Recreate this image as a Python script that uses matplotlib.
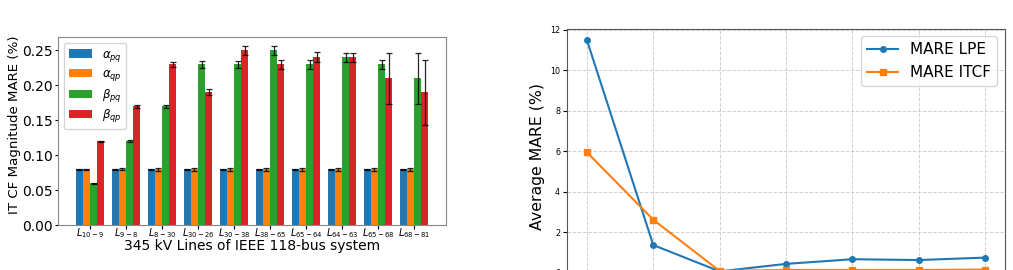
import numpy as np
import matplotlib
matplotlib.use("Agg")
import matplotlib.pyplot as plt

# ---- data: left bar chart ----
lines = [r"$L_{10-9}$", r"$L_{9-8}$", r"$L_{8-30}$", r"$L_{30-26}$", r"$L_{30-38}$",
         r"$L_{38-65}$", r"$L_{65-64}$", r"$L_{64-63}$", r"$L_{65-68}$", r"$L_{68-81}$"]
series_labels = [r"$\alpha_{pq}$", r"$\alpha_{qp}$", r"$\beta_{pq}$", r"$\beta_{qp}$"]
alpha_pq = [0.08, 0.08, 0.08, 0.08, 0.08, 0.08, 0.08, 0.08, 0.08, 0.08]
alpha_qp = [0.08, 0.08, 0.08, 0.08, 0.08, 0.08, 0.08, 0.08, 0.08, 0.08]
beta_pq = [0.06, 0.12, 0.17, 0.23, 0.23, 0.25, 0.23, 0.24, 0.23, 0.21]
beta_qp = [0.12, 0.17, 0.23, 0.19, 0.25, 0.23, 0.24, 0.24, 0.21, 0.19]
alpha_pq_err = [0.0008, 0.0012, 0.0012, 0.0012, 0.0012, 0.0012, 0.0012, 0.0012, 0.0012, 0.0012]
alpha_qp_err = [0.0012, 0.0015, 0.0018, 0.0018, 0.0018, 0.0018, 0.0018, 0.0018, 0.0018, 0.0018]
beta_pq_err = [0.0005, 0.0014, 0.0026, 0.005, 0.005, 0.0064, 0.0067, 0.007, 0.0067, 0.0366]
beta_qp_err = [0.0007, 0.0024, 0.0033, 0.0043, 0.006, 0.0067, 0.0071, 0.006, 0.0368, 0.0466]

# ---- data: right line chart ----
steps = [0, 1, 2, 3, 4, 5, 6]
mare_lpe = [11.5, 1.38, 0.08, 0.45, 0.68, 0.64, 0.76]
mare_itcf = [5.96, 2.63, 0.1, 0.15, 0.15, 0.15, 0.17]

W, H, DPI = 1013, 270, 100
fig = plt.figure(figsize=(W / DPI, H / DPI), dpi=DPI)

# ---------------- left panel ----------------
ax1_top, ax1_bot = 37, 225.3
ax1 = fig.add_axes([58 / W, 1 - ax1_bot / H, 388 / W, (ax1_bot - ax1_top) / H])
x = np.arange(len(lines))
width = 0.2
colors = ["#1f77b4", "#ff7f0e", "#2ca02c", "#d62728"]
vals = [alpha_pq, alpha_qp, beta_pq, beta_qp]
errs = [alpha_pq_err, alpha_qp_err, beta_pq_err, beta_qp_err]
for i, (v, e, c, lab) in enumerate(zip(vals, errs, colors, series_labels)):
    ax1.bar(x + (i - 1.5) * width, v, width, yerr=e, color=c, label=lab,
            capsize=2.3, error_kw=dict(ecolor="black", elinewidth=0.9, capthick=0.9, alpha=0.85))
ax1.set_xticks(x)
ax1.set_xticklabels(lines, fontsize=7)
ax1.tick_params(axis="x", length=3, pad=-2.5)
ax1.tick_params(axis="y", labelsize=10, length=2.5, pad=1)
ax1.set_ylabel("IT CF Magnitude MARE (%)", fontsize=9.6)
ax1.yaxis.set_label_coords((21 - 58) / 388, (ax1_bot - 125) / (ax1_bot - ax1_top))
ax1.set_xlabel("345 kV Lines of IEEE 118-bus system", fontsize=10, va="top")
ax1.xaxis.set_label_coords(0.5, (ax1_bot - 239) / (ax1_bot - ax1_top))
ax1.legend(loc="upper left", fontsize=8.5, labelspacing=0.3)
for s in ax1.spines.values():
    s.set_color("#888888")

# ---------------- right panel ----------------
ymin, ymax = -0.52, 12.07
px_per_unit = 20.25
top_px = 30 - (ymax - 12) * px_per_unit
bot_px = top_px + (ymax - ymin) * px_per_unit
ax2 = fig.add_axes([567 / W, 1 - bot_px / H, 438 / W, (bot_px - top_px) / H])
ax2.plot(steps, mare_lpe, "-o", color="#1f77b4", lw=1.5, ms=4, label="MARE LPE")
ax2.plot(steps, mare_itcf, "-s", color="#ff7f0e", lw=1.5, ms=4, label="MARE ITCF")
ax2.set_ylim(ymin, ymax)
ax2.set_xticks(steps)
ax2.set_yticks([0, 2, 4, 6, 8, 10, 12])
ax2.tick_params(axis="y", labelsize=5.8, length=3, pad=2)
ax2.tick_params(axis="x", labelbottom=False)
ax2.grid(True, linestyle="--", color="#d0d0d0", linewidth=0.7)
ax2.set_ylabel("Average MARE (%)", fontsize=11.3)
ax2.yaxis.set_label_coords((545 - 567) / 438, 0.5)
ax2.legend(loc="upper right", fontsize=11)
for s in ax2.spines.values():
    s.set_color("#555555")

fig.savefig("out.png", dpi=DPI)
